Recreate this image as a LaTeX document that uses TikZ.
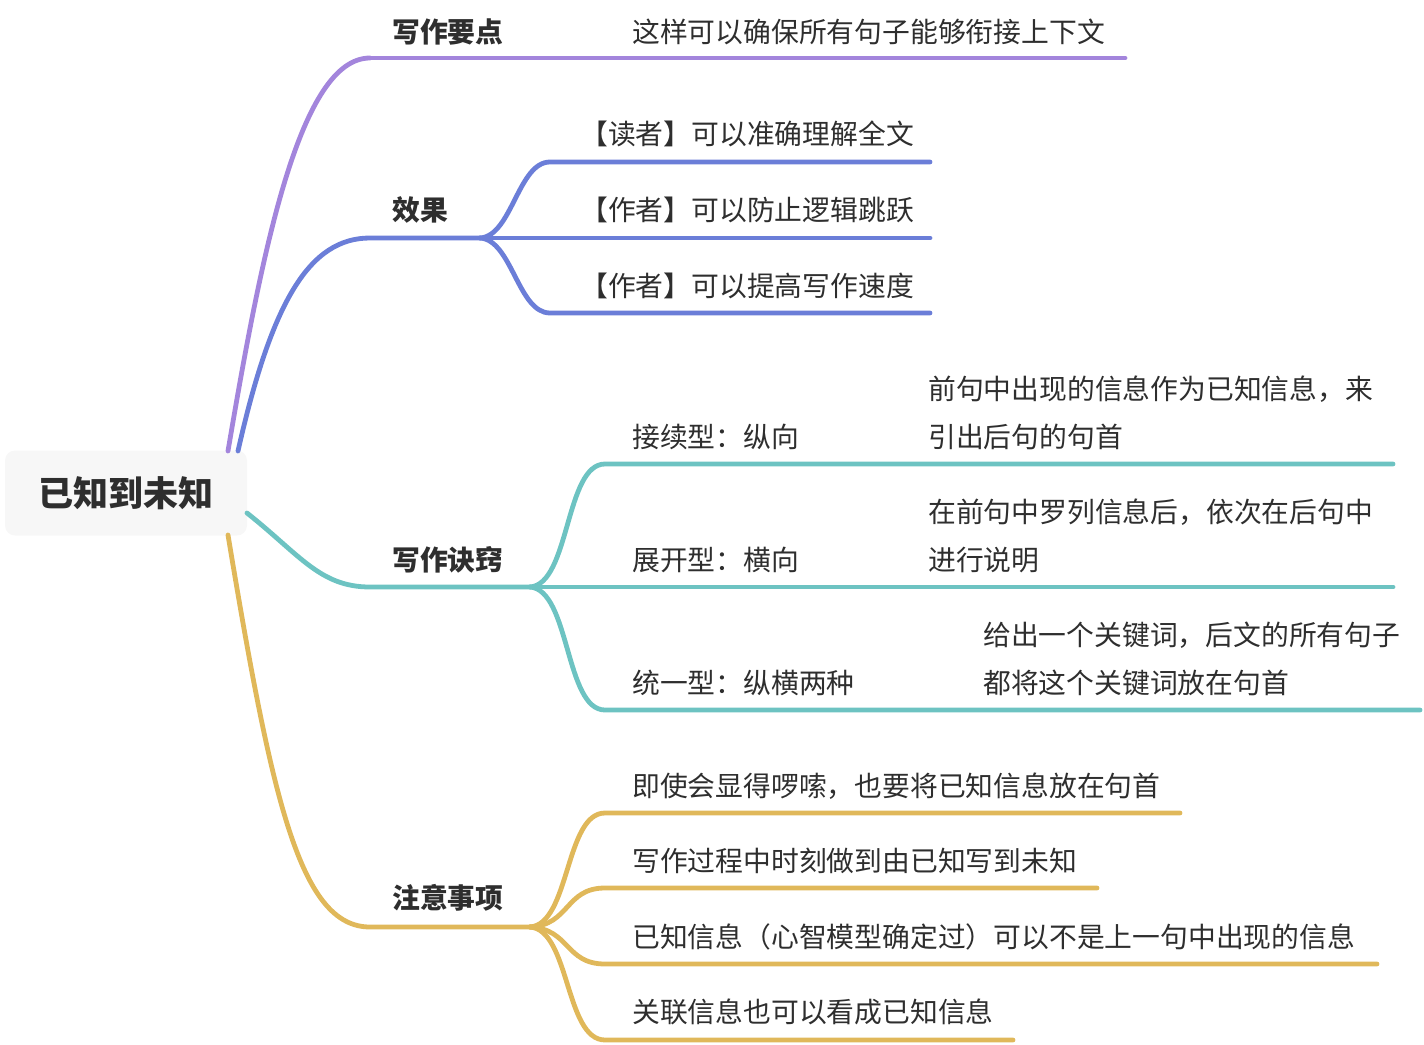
\documentclass[tikz,border=0pt]{standalone}
\usepackage{fontspec}
\setmainfont{Noto Sans CJK SC}
\definecolor{cpur}{HTML}{A385DC}
\definecolor{cblu}{HTML}{6B7ED8}
\definecolor{ctea}{HTML}{6DC3C2}
\definecolor{cgol}{HTML}{E0B85A}
\definecolor{ctxt}{HTML}{2E2E2E}
\tikzset{
  br/.style={line width=4.8pt, line cap=round},
  lab/.style={anchor=base west, inner sep=0pt, text=ctxt, font=\fontsize{27.8}{48}\selectfont\bfseries},
  txt/.style={anchor=base west, inner sep=0pt, text=ctxt, align=left, font=\fontsize{27.8}{48}\selectfont},
}
\begin{document}
\begin{tikzpicture}[x=1pt,y=-1pt]
\useasboundingbox (0,0) rectangle (1424,1044);
% root
\node[draw=none, fill=black!3, rounded corners=10pt, minimum width=242pt, minimum height=85pt, text=ctxt, font=\fontsize{35}{40}\selectfont\bfseries] (root) at (126,493) {已知到未知};
\coordinate (r1) at (228,451);
\coordinate (r2) at (238,451);
\coordinate (r3) at (247,513);
\coordinate (r4) at (228,535);
% branch endpoints
\coordinate (b1) at (370,58);
\coordinate (b2) at (370,238);
\coordinate (b3) at (370,587);
\coordinate (b4) at (370,927);
\coordinate (j2) at (480,238);
\coordinate (j3) at (530,587);
\coordinate (j4) at (530,927);
% purple
\draw[br, cpur] (r1) .. controls (262,250) and (300,58) .. (b1);
\coordinate (e1) at (1125,58);
\draw[br, cpur] (b1) -- (e1);
\node[lab] (l1) at (392,42.5) {写作要点};
\node[txt] (t1) at (632,42.5) {这样可以确保所有句子能够衔接上下文};
% blue
\draw[br, cblu] (r2) .. controls (272,300) and (310,238) .. (b2) -- (j2);
\node[lab] (l2) at (392,220.5) {效果};
\coordinate (c21) at (550,162);
\coordinate (c22) at (550,238);
\coordinate (c23) at (550,313);
\coordinate (e21) at (930,162);
\coordinate (e22) at (930,238);
\coordinate (e23) at (930,313);
\draw[br, cblu] (j2) .. controls (512,236) and (518,162) .. (c21) -- (e21);
\draw[br, cblu] (j2) -- (e22);
\draw[br, cblu] (j2) .. controls (512,240) and (518,313) .. (c23) -- (e23);
\node[txt] (t21) at (580,144.5) {【读者】可以准确理解全文};
\node[txt] (t22) at (580,220.5) {【作者】可以防止逻辑跳跃};
\node[txt] (t23) at (580,296.5) {【作者】可以提高写作速度};
% teal
\draw[br, ctea] (r3) .. controls (300,555) and (320,587) .. (b3) -- (j3);
\node[lab] (l3) at (392,570.5) {写作诀窍};
\coordinate (c31) at (605,464);
\coordinate (c32) at (605,587);
\coordinate (c33) at (605,710);
\coordinate (e31) at (1393,464);
\coordinate (e32) at (1393,587);
\coordinate (e33) at (1420,710);
\draw[br, ctea] (j3) .. controls (570,584) and (565,464) .. (c31) -- (e31);
\draw[br, ctea] (j3) -- (e32);
\draw[br, ctea] (j3) .. controls (570,590) and (565,710) .. (c33) -- (e33);
\node[txt] (t31) at (632,447.5) {接续型：纵向};
\node[txt] (t32) at (632,570.5) {展开型：横向};
\node[txt] (t33) at (632,693.5) {统一型：纵横两种};
\node[txt] (g31) at (928,447.5) {前句中出现的信息作为已知信息，来\\引出后句的句首};
\node[txt] (g32) at (928,570.5) {在前句中罗列信息后，依次在后句中\\进行说明};
\node[txt] (g33) at (983,693.5) {给出一个关键词，后文的所有句子\\都将这个关键词放在句首};
% gold
\draw[br, cgol] (r4) .. controls (272,800) and (300,927) .. (b4) -- (j4);
\node[lab] (l4) at (392,908.5) {注意事项};
\coordinate (c41) at (605,813);
\coordinate (c42) at (605,888);
\coordinate (c43) at (605,964);
\coordinate (c44) at (605,1040);
\coordinate (e41) at (1180,813);
\coordinate (e42) at (1097,888);
\coordinate (e43) at (1377,964);
\coordinate (e44) at (1013,1040);
\draw[br, cgol] (j4) .. controls (570,924) and (565,813) .. (c41) -- (e41);
\draw[br, cgol] (j4) .. controls (570,925) and (565,888) .. (c42) -- (e42);
\draw[br, cgol] (j4) .. controls (570,929) and (565,964) .. (c43) -- (e43);
\draw[br, cgol] (j4) .. controls (570,930) and (565,1040) .. (c44) -- (e44);
\node[txt] (t41) at (632,796.5) {即使会显得啰嗦，也要将已知信息放在句首};
\node[txt] (t42) at (632,871.5) {写作过程中时刻做到由已知写到未知};
\node[txt] (t43) at (632,947.5) {已知信息（心智模型确定过）可以不是上一句中出现的信息};
\node[txt] (t44) at (632,1022.5) {关联信息也可以看成已知信息};
\end{tikzpicture}
\end{document}
